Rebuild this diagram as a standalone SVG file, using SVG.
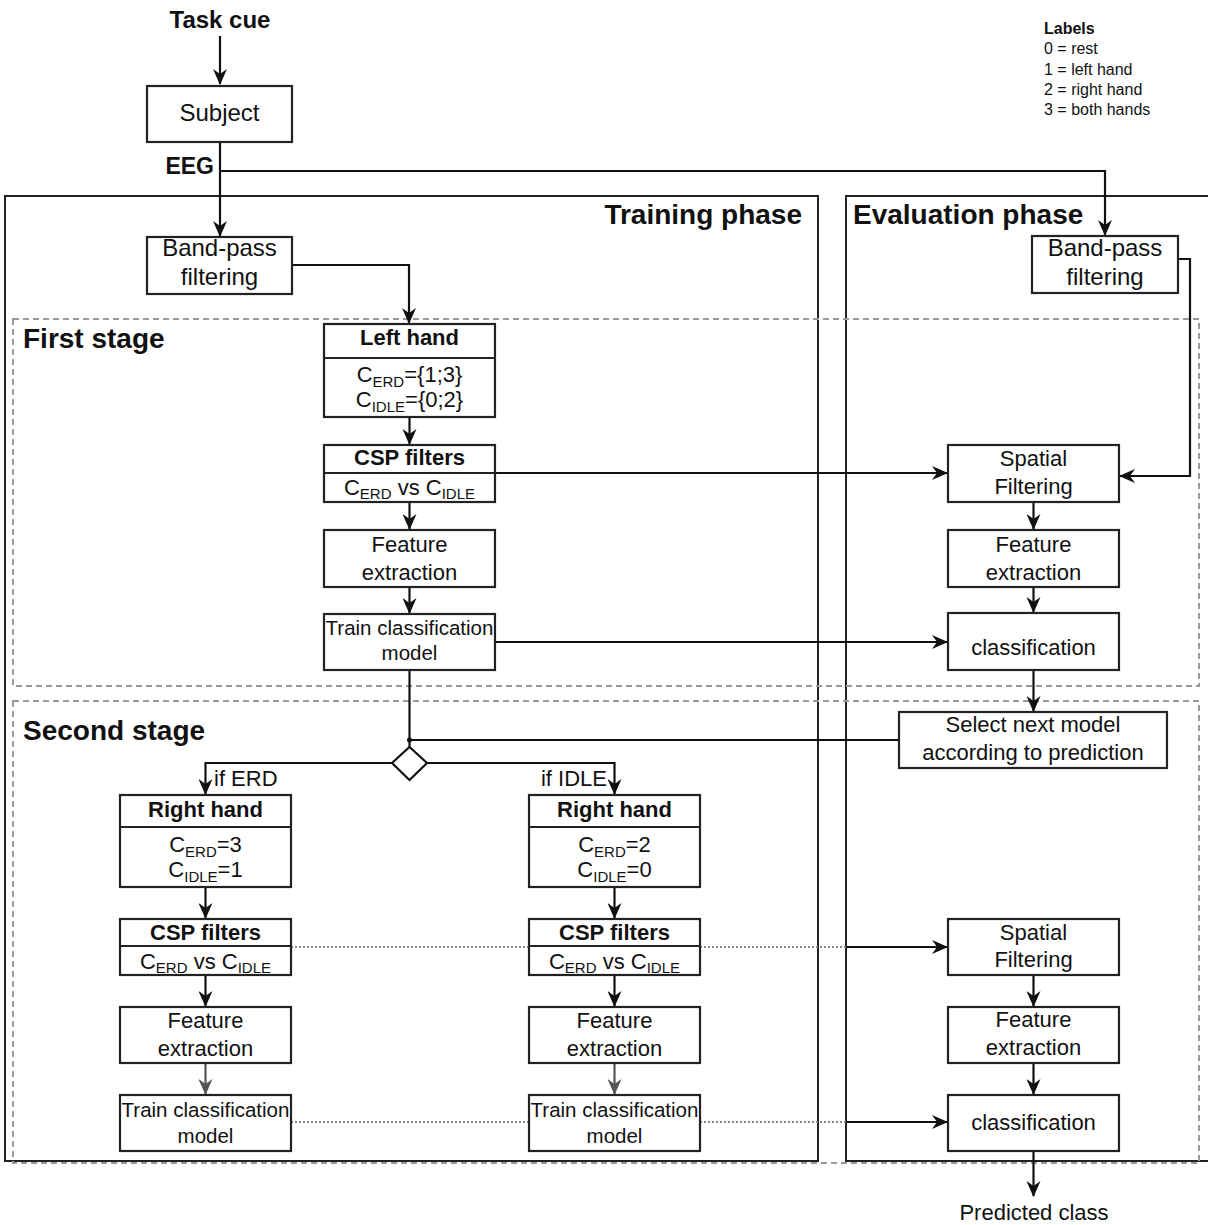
<svg xmlns="http://www.w3.org/2000/svg" width="1208" height="1225" viewBox="0 0 1208 1225">
<style>
text{font-family:"Liberation Sans",Arial,sans-serif;fill:#111}
.t{font-size:22px;text-anchor:middle}
.tb{font-size:22px;font-weight:bold;text-anchor:middle}
.big{font-size:24px;text-anchor:middle}
.sm{font-size:20.5px;text-anchor:middle}
.title{font-size:28px;font-weight:bold}
.sub{font-size:15px}
.leg{font-size:16px}
.box{fill:#fff;stroke:#222;stroke-width:2.2}
.div{stroke:#222;stroke-width:2.2}
.phase{fill:none;stroke:#222;stroke-width:2}
.stage{fill:none;stroke:#9a9a9a;stroke-width:2;stroke-dasharray:6 4}
.ln{fill:none;stroke:#111;stroke-width:2.2}
.arr{fill:none;stroke:#111;stroke-width:2.2;marker-end:url(#ah)}
.garr{fill:none;stroke:#555;stroke-width:2.2;marker-end:url(#gah)}
.dot{fill:none;stroke:#888;stroke-width:2;stroke-dasharray:2 2}
</style>
<defs>
<marker id="ah" markerUnits="userSpaceOnUse" markerWidth="16" markerHeight="14" viewBox="0 0 16 14" refX="15" refY="7" orient="auto"><path d="M0,0 L16,7 L0,14 L5,7 z" fill="#111"/></marker>
<marker id="gah" markerUnits="userSpaceOnUse" markerWidth="16" markerHeight="14" viewBox="0 0 16 14" refX="15" refY="7" orient="auto"><path d="M0,0 L16,7 L0,14 L5,7 z" fill="#555"/></marker>
</defs>
<rect width="1208" height="1225" fill="#fff"/>

<g id="phases">
<rect class="phase" x="5" y="196" width="813" height="965"/>
<path class="phase" d="M1212,196 H846 V1161 H1212"/>
<text class="title" x="802" y="224" text-anchor="end">Training phase</text>
<text class="title" x="853" y="224">Evaluation phase</text>
</g>
<g id="stages">
<rect class="stage" x="13" y="319" width="1186" height="367"/>
<rect class="stage" x="13" y="701" width="1186" height="462"/>
<text class="title" x="23" y="348">First stage</text>
<text class="title" x="23" y="740">Second stage</text>
</g>

<g id="legend">
<text class="leg" x="1044" y="34" font-weight="bold">Labels</text>
<text class="leg" x="1044" y="54">0 = rest</text>
<text class="leg" x="1044" y="75">1 = left hand</text>
<text class="leg" x="1044" y="95">2 = right hand</text>
<text class="leg" x="1044" y="115">3 = both hands</text>
</g>

<g id="connectors">
<path class="arr" d="M220,36 V84"/>
<path class="arr" d="M220,142 V236"/>
<path class="arr" d="M220,171 H1105 V235"/>
<path class="arr" d="M292,265 H409 V323"/>
<path class="arr" d="M1178,259 H1190 V476 H1120"/>
<path class="arr" d="M409.5,417 V444"/>
<path class="arr" d="M495,473 H947"/>
<path class="arr" d="M409.5,502 V529"/>
<path class="arr" d="M409.5,587 V613"/>
<path class="arr" d="M495,642 H947"/>
<path class="arr" d="M1033.5,502 V529"/>
<path class="arr" d="M1033.5,587 V612"/>
<path class="arr" d="M1033.5,670 V711"/>
<path class="ln" d="M409.5,670 V747"/>
<path class="ln" d="M899,740 H409.5"/>
<circle cx="409.5" cy="740" r="2.5" fill="#111"/>
<path class="arr" d="M393,763 H205.5 V794"/>
<path class="arr" d="M427,763 H614.5 V794"/>
<path class="arr" d="M205.5,887 V918"/>
<path class="arr" d="M614.5,887 V918"/>
<path class="arr" d="M205.5,975 V1006"/>
<path class="arr" d="M614.5,975 V1006"/>
<path class="garr" d="M205.5,1063 V1094"/>
<path class="garr" d="M614.5,1063 V1094"/>
<path class="dot" d="M291,947 H529"/>
<path class="dot" d="M700,947 H846"/>
<path class="arr" d="M846,947 H947"/>
<path class="dot" d="M291,1122 H529"/>
<path class="dot" d="M700,1122 H846"/>
<path class="arr" d="M846,1122 H947"/>
<path class="arr" d="M1033.5,975 V1006"/>
<path class="arr" d="M1033.5,1063 V1094"/>
<path class="arr" d="M1033.5,1151 V1196"/>
</g>

<g id="task-cue"><text x="220" y="28" font-size="24" font-weight="bold" text-anchor="middle">Task cue</text></g>
<g id="eeg"><text x="214" y="174" font-size="23" font-weight="bold" text-anchor="end">EEG</text></g>

<g id="subject">
<rect class="box" x="147" y="86" width="145" height="56"/>
<text class="big" x="219.5" y="121" font-size="25">Subject</text>
</g>
<g id="bandpass-train">
<rect class="box" x="147" y="237" width="145" height="57"/>
<text class="big" x="219.5" y="256">Band-pass</text>
<text class="big" x="219.5" y="285">filtering</text>
</g>
<g id="bandpass-eval">
<rect class="box" x="1032" y="236" width="146" height="57"/>
<text class="big" x="1105" y="256">Band-pass</text>
<text class="big" x="1105" y="285">filtering</text>
</g>

<g id="left-hand">
<rect class="box" x="324" y="324" width="171" height="93"/>
<line class="div" x1="324" y1="358" x2="495" y2="358"/>
<text class="tb" x="409.5" y="345">Left hand</text>
<text class="t" x="409.5" y="382">C<tspan class="sub" dy="5">ERD</tspan><tspan dy="-5">={1;3}</tspan></text>
<text class="t" x="409.5" y="407">C<tspan class="sub" dy="5">IDLE</tspan><tspan dy="-5">={0;2}</tspan></text>
</g>
<g id="csp-1">
<rect class="box" x="324" y="445" width="171" height="57"/>
<line class="div" x1="324" y1="473" x2="495" y2="473"/>
<text class="tb" x="409.5" y="465">CSP filters</text>
<text class="t" x="409.5" y="495">C<tspan class="sub" dy="4">ERD</tspan><tspan dy="-4"> vs C</tspan><tspan class="sub" dy="4">IDLE</tspan></text>
</g>
<g id="feature-1">
<rect class="box" x="324" y="530" width="171" height="57"/>
<text class="t" x="409.5" y="552">Feature</text>
<text class="t" x="409.5" y="580">extraction</text>
</g>
<g id="train-1">
<rect class="box" x="324" y="614" width="171" height="56"/>
<text class="sm" x="409.5" y="635">Train classification</text>
<text class="sm" x="409.5" y="660">model</text>
</g>

<g id="spatial-1">
<rect class="box" x="948" y="445" width="171" height="57"/>
<text class="t" x="1033.5" y="466">Spatial</text>
<text class="t" x="1033.5" y="494">Filtering</text>
</g>
<g id="feature-e1">
<rect class="box" x="948" y="530" width="171" height="57"/>
<text class="t" x="1033.5" y="552">Feature</text>
<text class="t" x="1033.5" y="580">extraction</text>
</g>
<g id="classif-1">
<rect class="box" x="948" y="613" width="171" height="57"/>
<text class="t" x="1033.5" y="655">classification</text>
</g>
<g id="select">
<rect class="box" x="899" y="712" width="268" height="56"/>
<text class="t" x="1033" y="732">Select next model</text>
<text class="t" x="1033" y="760">according to prediction</text>
</g>

<g id="decision">
<polygon points="409.5,747 427,763 409.5,780 392,763" fill="#fff" stroke="#111" stroke-width="2.2"/>
<text x="214" y="786" font-size="22">if ERD</text>
<text x="607" y="786" font-size="22" text-anchor="end">if IDLE</text>
</g>

<g id="right-hand-erd">
<rect class="box" x="120" y="795" width="171" height="92"/>
<line class="div" x1="120" y1="827" x2="291" y2="827"/>
<text class="tb" x="205.5" y="817">Right hand</text>
<text class="t" x="205.5" y="852">C<tspan class="sub" dy="5">ERD</tspan><tspan dy="-5">=3</tspan></text>
<text class="t" x="205.5" y="877">C<tspan class="sub" dy="5">IDLE</tspan><tspan dy="-5">=1</tspan></text>
</g>
<g id="csp-erd">
<rect class="box" x="120" y="919" width="171" height="56"/>
<line class="div" x1="120" y1="946" x2="291" y2="946"/>
<text class="tb" x="205.5" y="940">CSP filters</text>
<text class="t" x="205.5" y="969">C<tspan class="sub" dy="4">ERD</tspan><tspan dy="-4"> vs C</tspan><tspan class="sub" dy="4">IDLE</tspan></text>
</g>
<g id="feature-erd">
<rect class="box" x="120" y="1007" width="171" height="56"/>
<text class="t" x="205.5" y="1028">Feature</text>
<text class="t" x="205.5" y="1056">extraction</text>
</g>
<g id="train-erd">
<rect class="box" x="120" y="1095" width="171" height="56"/>
<text class="sm" x="205.5" y="1117">Train classification</text>
<text class="sm" x="205.5" y="1143">model</text>
</g>

<g id="right-hand-idle">
<rect class="box" x="529" y="795" width="171" height="92"/>
<line class="div" x1="529" y1="827" x2="700" y2="827"/>
<text class="tb" x="614.5" y="817">Right hand</text>
<text class="t" x="614.5" y="852">C<tspan class="sub" dy="5">ERD</tspan><tspan dy="-5">=2</tspan></text>
<text class="t" x="614.5" y="877">C<tspan class="sub" dy="5">IDLE</tspan><tspan dy="-5">=0</tspan></text>
</g>
<g id="csp-idle">
<rect class="box" x="529" y="919" width="171" height="56"/>
<line class="div" x1="529" y1="946" x2="700" y2="946"/>
<text class="tb" x="614.5" y="940">CSP filters</text>
<text class="t" x="614.5" y="969">C<tspan class="sub" dy="4">ERD</tspan><tspan dy="-4"> vs C</tspan><tspan class="sub" dy="4">IDLE</tspan></text>
</g>
<g id="feature-idle">
<rect class="box" x="529" y="1007" width="171" height="56"/>
<text class="t" x="614.5" y="1028">Feature</text>
<text class="t" x="614.5" y="1056">extraction</text>
</g>
<g id="train-idle">
<rect class="box" x="529" y="1095" width="171" height="56"/>
<text class="sm" x="614.5" y="1117">Train classification</text>
<text class="sm" x="614.5" y="1143">model</text>
</g>

<g id="spatial-2">
<rect class="box" x="948" y="919" width="171" height="56"/>
<text class="t" x="1033.5" y="940">Spatial</text>
<text class="t" x="1033.5" y="967">Filtering</text>
</g>
<g id="feature-e2">
<rect class="box" x="948" y="1007" width="171" height="56"/>
<text class="t" x="1033.5" y="1027">Feature</text>
<text class="t" x="1033.5" y="1055">extraction</text>
</g>
<g id="classif-2">
<rect class="box" x="948" y="1095" width="171" height="56"/>
<text class="t" x="1033.5" y="1130">classification</text>
</g>
<g id="predicted"><text class="t" x="1034" y="1220">Predicted class</text></g>
</svg>
